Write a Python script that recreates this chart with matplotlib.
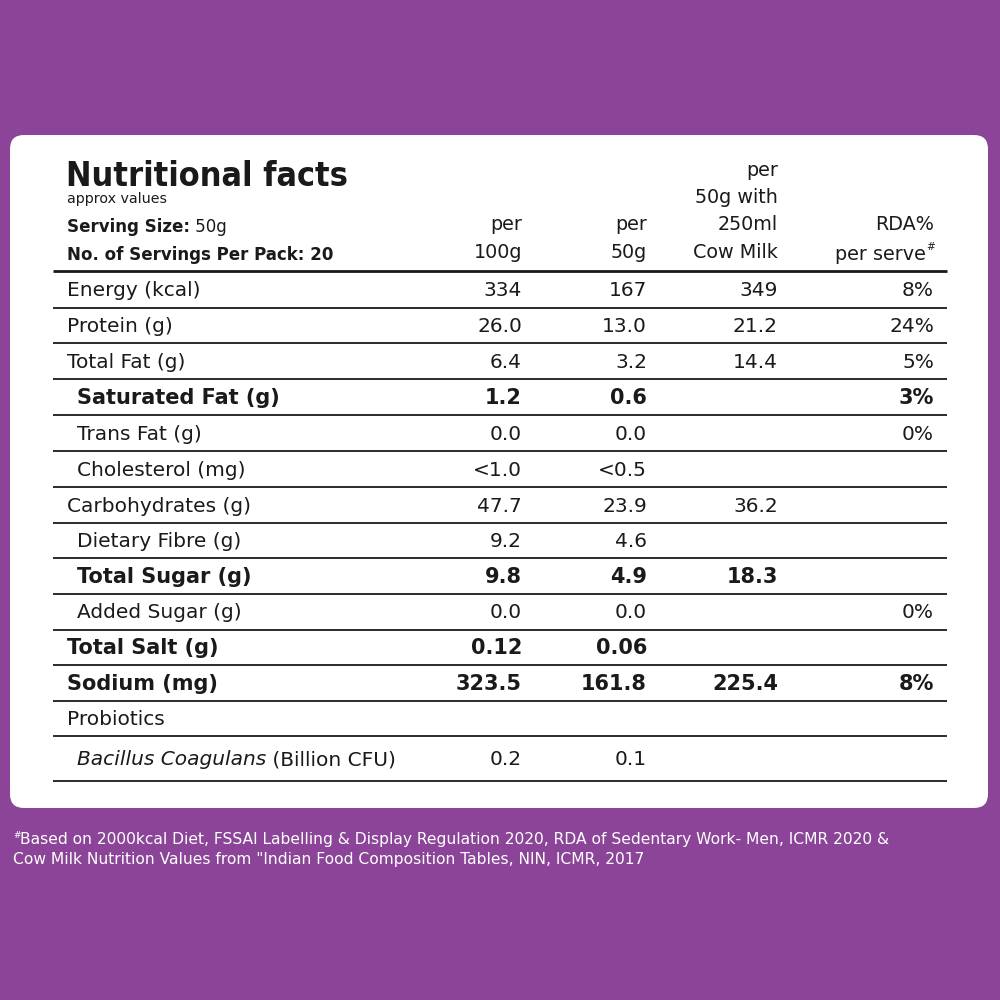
import matplotlib
matplotlib.use("Agg")
import matplotlib.pyplot as plt
from matplotlib.patches import FancyBboxPatch

# ---------------- data ----------------
nutrients = ["Energy (kcal)", "Protein (g)", "Total Fat (g)", "Saturated Fat (g)",
             "Trans Fat (g)", "Cholesterol (mg)", "Carbohydrates (g)", "Dietary Fibre (g)",
             "Total Sugar (g)", "Added Sugar (g)", "Total Salt (g)", "Sodium (mg)",
             "Probiotics", "Bacillus Coagulans"]
per_100g = ["334", "26.0", "6.4", "1.2", "0.0", "<1.0", "47.7", "9.2", "9.8", "0.0",
            "0.12", "323.5", "", "0.2"]
per_50g = ["167", "13.0", "3.2", "0.6", "0.0", "<0.5", "23.9", "4.6", "4.9", "0.0",
           "0.06", "161.8", "", "0.1"]
per_50g_milk = ["349", "21.2", "14.4", "", "", "", "36.2", "", "18.3", "", "", "225.4", "", ""]
rda_pct = ["8%", "24%", "5%", "3%", "0%", "", "", "", "", "0%", "", "8%", "", ""]
bold_rows = ["Saturated Fat (g)", "Total Sugar (g)", "Total Salt (g)", "Sodium (mg)"]
indented_rows = ["Saturated Fat (g)", "Trans Fat (g)", "Cholesterol (mg)", "Dietary Fibre (g)",
                 "Total Sugar (g)", "Added Sugar (g)", "Bacillus Coagulans"]
col_headers = ["per\n100g", "per\n50g", "per\n50g with\n250ml\nCow Milk", "RDA%\nper serve"]

PURPLE = "#8B4497"
BODY = "DejaVu Sans"

fig = plt.figure(figsize=(10, 10), dpi=100)
fig.patch.set_facecolor(PURPLE)
ax = fig.add_axes([0, 0, 1, 1])
ax.set_xlim(0, 1000)
ax.set_ylim(1000, 0)
ax.axis("off")

# white card
card = FancyBboxPatch((10, 135), 978, 673, boxstyle="round,pad=0,rounding_size=14",
                      facecolor="white", edgecolor="none")
ax.add_patch(card)

ink = "#1a1a1a"
# title block
ax.text(66, 186, "Nutritional facts", fontsize=24.5, fontweight="bold", family="DejaVu Sans",
        fontstretch="condensed", color=ink, va="baseline", ha="left")
ax.text(67, 203, "approx values", fontsize=10.3, family=BODY, color=ink, va="baseline")
t = ax.text(67, 232, "Serving Size:", fontsize=13.3, family="DejaVu Sans", fontstretch="condensed",
            fontweight="bold", color=ink, va="baseline")
ax.annotate(" 50g", xy=(1, 0), xycoords=t, fontsize=13.3, family="DejaVu Sans",
            fontstretch="condensed", color=ink, va="bottom", ha="left")
ax.text(67, 260, "No. of Servings Per Pack: 20", fontsize=13.3, family="DejaVu Sans",
        fontstretch="condensed", fontweight="bold", color=ink, va="baseline")

# column headers
col_x = [522, 647, 778, 934]
line_h = 27.5
for i, (cx, hdr) in enumerate(zip(col_x, col_headers)):
    lines = hdr.split("\n")
    n = len(lines)
    for j, ln in enumerate(lines):
        y = 258 - (n - 1 - j) * line_h
        if i == 3 and j == 1:
            h = ax.text(cx + 1, y - 8, "#", fontsize=7.5, family=BODY, color=ink,
                        ha="right", va="baseline")
            ax.annotate(ln, xy=(0, 0), xycoords=h, xytext=(0, -8 * 0.72), textcoords="offset points",
                        fontsize=13.8, family=BODY, color=ink, ha="right", va="baseline")
        else:
            ax.text(cx, y, ln, fontsize=13.8, family=BODY, color=ink, ha="right", va="baseline")

# rows
line_left, line_right = 53, 947
row_lines = [271, 308, 343, 379, 415, 451, 487, 523, 558, 594, 630, 665, 701, 736, 781]
ax.plot([line_left, line_right], [row_lines[0], row_lines[0]], color=ink, lw=2.0,
        solid_capstyle="butt")
for y in row_lines[1:]:
    ax.plot([line_left, line_right], [y, y], color=ink, lw=1.3, solid_capstyle="butt")

for k, name in enumerate(nutrients):
    top, bot = row_lines[k], row_lines[k + 1]
    yc = (top + bot) / 2 + 1
    is_bold = name in bold_rows
    fs = 15 if is_bold else 14.5
    fw = "bold" if is_bold else "normal"
    x0 = 77 if name in indented_rows else 67
    if name == "Bacillus Coagulans":
        tt = ax.text(x0, yc, name, fontsize=fs, family=BODY, style="italic", color=ink,
                     va="center", ha="left")
        ax.annotate(" (Billion CFU)", xy=(1, 0.5), xycoords=tt, fontsize=fs, family=BODY,
                    color=ink, va="center", ha="left")
    else:
        ax.text(x0, yc, name, fontsize=fs, family=BODY, fontweight=fw, color=ink,
                va="center", ha="left")
    for cx, vals in zip(col_x, [per_100g, per_50g, per_50g_milk, rda_pct]):
        v = vals[k]
        if v:
            ax.text(cx, yc, v, fontsize=fs, family=BODY, fontweight=fw, color=ink,
                    va="center", ha="right")

# footnote
ax.text(13, 838, "#", fontsize=6.5, family=BODY, color="white", va="baseline", ha="left")
ax.text(20, 844, "Based on 2000kcal Diet, FSSAI Labelling & Display Regulation 2020, RDA of Sedentary Work- Men, ICMR 2020 &",
        fontsize=11.2, family=BODY, color="white", va="baseline", ha="left")
ax.text(13, 864, "Cow Milk Nutrition Values from \"Indian Food Composition Tables, NIN, ICMR, 2017",
        fontsize=11.2, family=BODY, color="white", va="baseline")

fig.savefig("out.png", dpi=100, facecolor=PURPLE)
